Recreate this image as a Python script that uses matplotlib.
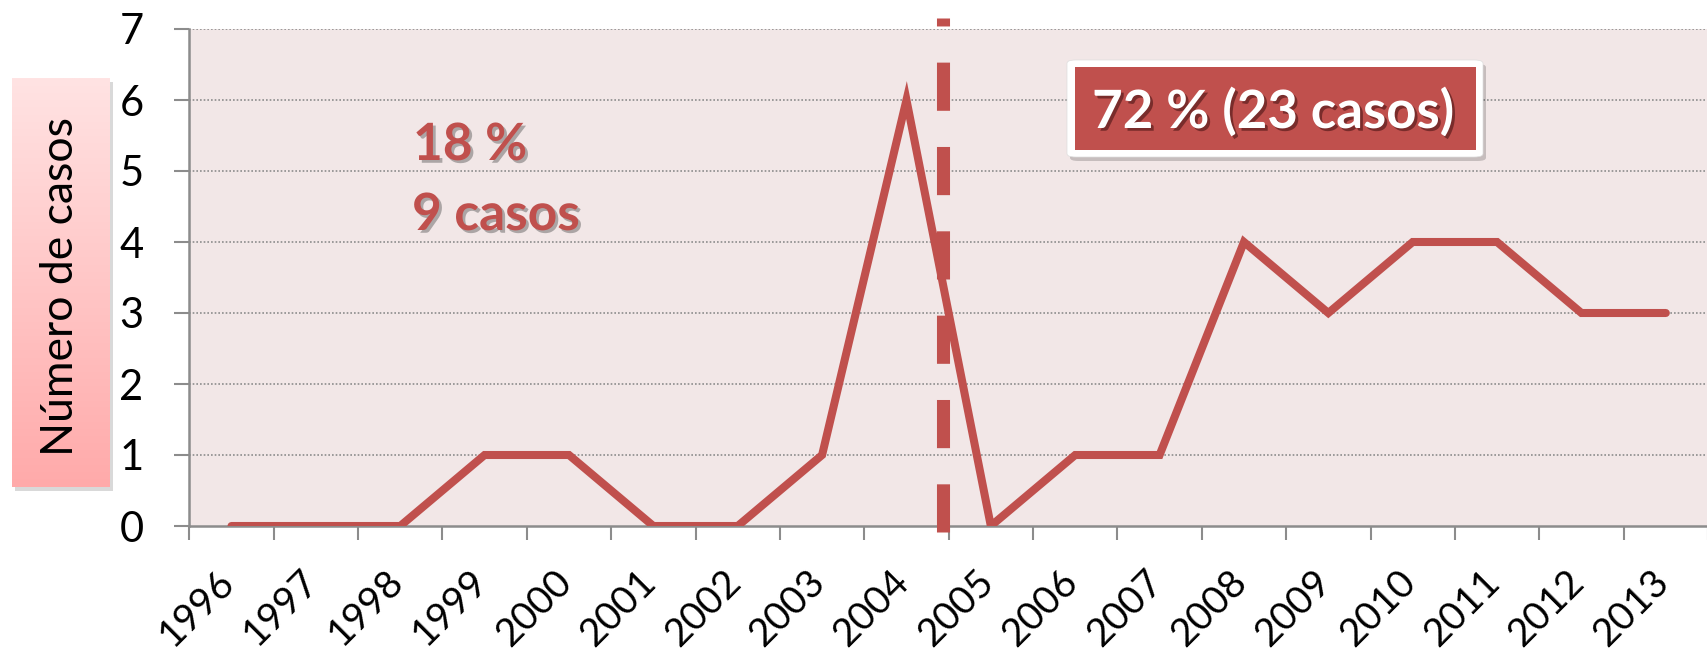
import numpy as np
import matplotlib
matplotlib.use("Agg")
import matplotlib.pyplot as plt
import matplotlib.patheffects as pe
import matplotlib.transforms as mtransforms
from matplotlib.patches import FancyBboxPatch, Rectangle
from matplotlib.colors import LinearSegmentedColormap

plt.rcParams['font.family'] = ['Lato', 'DejaVu Sans']

years = ['1996', '1997', '1998', '1999', '2000', '2001', '2002', '2003', '2004',
         '2005', '2006', '2007', '2008', '2009', '2010', '2011', '2012', '2013']
cases = [0, 0, 0, 1, 1, 0, 0, 1, 6, 0, 1, 1, 4, 3, 4, 4, 3, 3]
y_ticks = [0, 1, 2, 3, 4, 5, 6, 7]
before_text = ['18 %', '9 casos']
after_text = '72 % (23 casos)'
y_title = 'Número de casos'

RED = '#C0504D'
BG = '#F2E7E7'
GRAY = '#8C8C8C'
W, H = 1708, 655


def fx(x):
    return x / W


def fy(y):
    return 1 - y / H


fig = plt.figure(figsize=(W / 100, H / 100), dpi=100)
ax = fig.add_axes([fx(189.3), fy(526), fx(W - 189.3), (526 - 29) / H])
ax.set_facecolor(BG)

x = np.arange(len(years))
ax.plot(x, cases, color=RED, lw=5.8, solid_capstyle='round',
        solid_joinstyle='miter', zorder=3)

# vertical dashed separator between 2004 and 2005
ax.plot([8.43, 8.43], [-0.08, 7.155], color=RED, lw=9.4,
        linestyle=(0, (3.69, 2.77)), dash_capstyle='butt',
        clip_on=False, zorder=4)

ax.set_xlim(-0.5, (W - 189.3) / 85.2 - 0.5)
ax.set_ylim(0, 7)
ax.set_yticks(y_ticks)
ax.set_xticks(x)
ax.set_xticklabels(years)
ax.set_xticks(np.arange(-0.5, len(years), 1), minor=True)

for yv in y_ticks[1:]:
    ax.axhline(yv, color=GRAY, lw=1.2, linestyle=(0, (1, 1.2)), zorder=1)

ax.tick_params(axis='x', which='major', length=0, pad=36, labelsize=28)
ax.tick_params(axis='x', which='minor', length=10, width=1.5, color=GRAY)
ax.tick_params(axis='y', length=11, width=1.5, color=GRAY, pad=22, labelsize=30)
shift = mtransforms.ScaledTranslation(-0.03, 0, fig.dpi_scale_trans)
for lbl in ax.get_xticklabels():
    lbl.set_rotation(45)
    lbl.set_ha('right')
    lbl.set_va('center')
    lbl.set_rotation_mode('anchor')
    lbl.set_transform(lbl.get_transform() + shift)
for s in ['top', 'right']:
    ax.spines[s].set_visible(False)
for s in ['left', 'bottom']:
    ax.spines[s].set_color(GRAY)
    ax.spines[s].set_linewidth(1.8)

shadow = [pe.SimplePatchShadow(offset=(2, -2), shadow_rgbFace='#555555', alpha=0.45),
          pe.Normal()]

# left-hand annotation
fig.text(fx(413), fy(160), before_text[0], color=RED, fontsize=37,
         fontweight='bold', va='baseline', ha='left', path_effects=shadow)
fig.text(fx(412), fy(230), before_text[1], color=RED, fontsize=37,
         fontweight='bold', va='baseline', ha='left', path_effects=shadow)

# right-hand annotation box
fig.add_artist(FancyBboxPatch((fx(1070), fy(161)), fx(416), 97 / H,
                              boxstyle='round,pad=0,rounding_size=0.005',
                              transform=fig.transFigure, facecolor='#000000',
                              edgecolor='none', alpha=0.18))
fig.add_artist(FancyBboxPatch((fx(1067), fy(157)), fx(416), 97 / H,
                              boxstyle='round,pad=0,rounding_size=0.005',
                              transform=fig.transFigure, facecolor='white',
                              edgecolor='#dddddd', lw=0.5))
fig.add_artist(Rectangle((fx(1075), fy(150)), fx(401), 83 / H,
                         transform=fig.transFigure, facecolor=RED, edgecolor='none'))
fig.text(fx(1273), fy(128), after_text, color='white', fontsize=38,
         fontweight='bold', va='baseline', ha='center',
         path_effects=[pe.SimplePatchShadow(offset=(2, -2), shadow_rgbFace='#4a1515', alpha=0.6),
                       pe.Normal()])

# y title in gradient box
fig.add_artist(Rectangle((fx(15), fy(491)), fx(98), 409 / H,
                         transform=fig.transFigure, facecolor='#000000',
                         edgecolor='none', alpha=0.15, zorder=-1))
lab = fig.add_axes([fx(12), fy(487), fx(98), 409 / H])
grad = LinearSegmentedColormap.from_list('g', ['#FFE3E3', '#FFAAAA'])
lab.imshow(np.linspace(0, 1, 256).reshape(-1, 1), aspect='auto', cmap=grad,
           extent=[0, 1, 0, 1], origin='upper')
lab.set_xlim(0, 1)
lab.set_ylim(0, 1)
lab.axis('off')
lab.text(0.5, 0.49, y_title, rotation=90, ha='center', va='center',
         fontsize=32, color='black', transform=lab.transAxes)

fig.savefig('out.png', dpi=100)
